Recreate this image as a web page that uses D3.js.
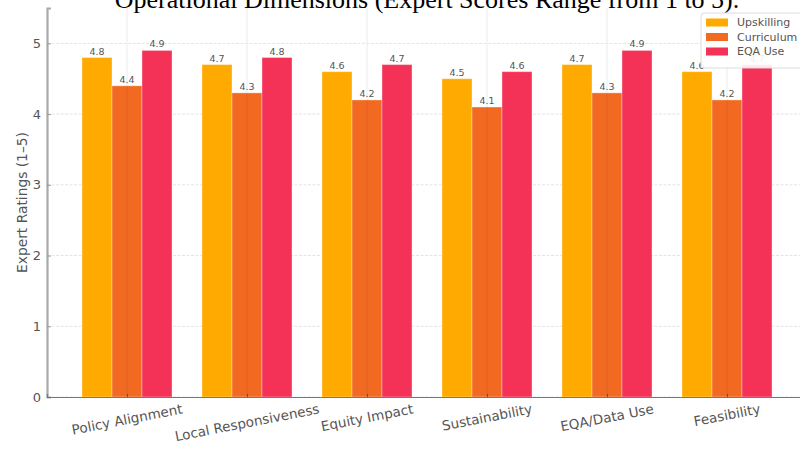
<!DOCTYPE html>
<html>
<head>
<meta charset="utf-8">
<script src="https://cdn.jsdelivr.net/npm/d3@7"></script>
<style>
  html, body { margin: 0; padding: 0; background: #fff; overflow: hidden; }
  svg { display: block; }
</style>
</head>
<body>
<svg id="chart" width="800" height="450"></svg>
<script>
// Dimensions rated by experts and the three intervention series
const categories = ["Policy Alignment", "Local Responsiveness", "Equity Impact", "Sustainability", "EQA/Data Use", "Feasibility"];
const seriesNames = ["Upskilling", "Curriculum", "EQA Use"];
const upskilling = [4.8, 4.7, 4.6, 4.5, 4.7, 4.6];
const curriculum = [4.4, 4.3, 4.2, 4.1, 4.3, 4.2];
const eqaUse = [4.9, 4.8, 4.7, 4.6, 4.9, 4.7];
const yTicks = [0, 1, 2, 3, 4, 5];
const seriesColors = ["#ffaa00", "#f26a22", "#f43257"];
const titleText = "Operational Dimensions (Expert Scores Range from 1 to 5).";
const yLabelText = "Expert Ratings (1–5)";

const seriesValues = [upskilling, curriculum, eqaUse];

const svg = d3.select("#chart");
const plot = { left: 47, right: 807, top: 8, bottom: 397 };

const x = d3.scaleLinear().domain([-2 / 3, categories.length - 1 + 2 / 3]).range([plot.left, plot.right]);
const y = d3.scaleLinear().domain([0, 5.5]).range([plot.bottom, plot.top]);
const barW = 0.25;
const offsets = [-barW, 0, barW];

const textColor = "#555";
const font = "DejaVu Sans, sans-serif";

// horizontal grid
svg.append("g")
  .selectAll("line")
  .data(yTicks)
  .join("line")
  .attr("x1", plot.left).attr("x2", plot.right)
  .attr("y1", d => y(d)).attr("y2", d => y(d))
  .attr("stroke", "#e4e4e4").attr("stroke-width", 1)
  .attr("stroke-dasharray", "3,1.5");

// vertical grid (behind bars)
svg.append("g")
  .selectAll("line")
  .data(categories.map((c, i) => i))
  .join("line")
  .attr("x1", d => x(d)).attr("x2", d => x(d))
  .attr("y1", plot.top).attr("y2", plot.bottom)
  .attr("stroke", "#ebebeb").attr("stroke-width", 1);

// bars
const barsG = svg.append("g");
seriesValues.forEach((vals, s) => {
  barsG.append("g")
    .selectAll("rect")
    .data(vals)
    .join("rect")
    .attr("x", (d, i) => x(i + offsets[s] - barW / 2))
    .attr("width", x(barW) - x(0))
    .attr("y", d => y(d))
    .attr("height", d => y(0) - y(d))
    .attr("fill", seriesColors[s])
    .attr("stroke", "#fff")
    .attr("stroke-opacity", 0.35)
    .attr("stroke-width", 1);
});

// grid line faintly showing through the middle bar
svg.append("g")
  .selectAll("line")
  .data(curriculum)
  .join("line")
  .attr("x1", (d, i) => x(i)).attr("x2", (d, i) => x(i))
  .attr("y1", d => y(d)).attr("y2", plot.bottom)
  .attr("stroke", "#000").attr("stroke-opacity", 0.07).attr("stroke-width", 1);

// value labels
seriesValues.forEach((vals, s) => {
  svg.append("g")
    .selectAll("text")
    .data(vals)
    .join("text")
    .attr("x", (d, i) => x(i + offsets[s]))
    .attr("y", d => y(d) - 3)
    .attr("text-anchor", "middle")
    .attr("font-family", font)
    .attr("font-size", 9.5)
    .attr("fill", textColor)
    .text(d => d.toFixed(1));
});

// y axis
const yAxis = d3.axisLeft(y).tickValues(yTicks).tickSize(-4).tickPadding(6).tickFormat(d3.format("d"));
const yG = svg.append("g").attr("transform", `translate(${plot.left},0)`).call(yAxis);
yG.select(".domain").attr("stroke", "#aaa").attr("stroke-width", 2.2);
yG.selectAll(".tick line").attr("stroke", "#999");
yG.selectAll(".tick text").attr("font-family", font).attr("font-size", 13).attr("fill", textColor);

// x axis baseline and ticks
const xAxis = d3.axisBottom(x).tickValues(categories.map((c, i) => i)).tickSize(-3).tickFormat("");
const xG = svg.append("g").attr("transform", `translate(0,${plot.bottom})`).call(xAxis);
xG.select(".domain").attr("stroke", "#777").attr("stroke-width", 1.2);
xG.selectAll(".tick line").attr("stroke", "#555");

// rotated category labels, centred under each tick
const angle = 11;
const rot = angle * Math.PI / 180;
const labelsG = svg.append("g");
categories.forEach((c, i) => {
  const t = labelsG.append("text")
    .attr("font-family", font)
    .attr("font-size", 13.5)
    .attr("fill", textColor)
    .attr("text-anchor", "middle")
    .attr("dominant-baseline", "central")
    .text(c);
  const w = t.node().getComputedTextLength();
  const h = 15;
  const bboxH = w * Math.sin(rot) + h * Math.cos(rot);
  const cx = x(i);
  const cy = plot.bottom + 4 + bboxH / 2;
  t.attr("transform", `translate(${cx},${cy}) rotate(${-angle})`);
});

// y axis label
svg.append("text")
  .attr("transform", `translate(22,${(plot.top + plot.bottom) / 2}) rotate(-90)`)
  .attr("text-anchor", "middle")
  .attr("dominant-baseline", "central")
  .attr("font-family", font)
  .attr("font-size", 13.8)
  .attr("fill", textColor)
  .text(yLabelText);

// title
svg.append("text")
  .attr("x", (plot.left + plot.right) / 2)
  .attr("y", 8)
  .attr("text-anchor", "middle")
  .attr("font-family", "Liberation Serif, Times New Roman, serif")
  .attr("font-size", 26)
  .attr("fill", "#000")
  .text(titleText);

// legend
const lg = svg.append("g").attr("transform", "translate(701,13)");
lg.append("rect")
  .attr("x", 0).attr("y", 0).attr("width", 110).attr("height", 55)
  .attr("rx", 3)
  .attr("fill", "#fff").attr("fill-opacity", 0.9)
  .attr("stroke", "#dcdcdc").attr("stroke-width", 1);
seriesNames.forEach((name, s) => {
  const row = lg.append("g").attr("transform", `translate(5,${9.5 + s * 14.5})`);
  row.append("rect").attr("x", 0).attr("y", -4).attr("width", 22).attr("height", 8).attr("fill", seriesColors[s]);
  row.append("text")
    .attr("x", 31).attr("y", 0)
    .attr("dominant-baseline", "central")
    .attr("font-family", font)
    .attr("font-size", 11)
    .attr("fill", textColor)
    .text(name);
});
</script>
</body>
</html>
